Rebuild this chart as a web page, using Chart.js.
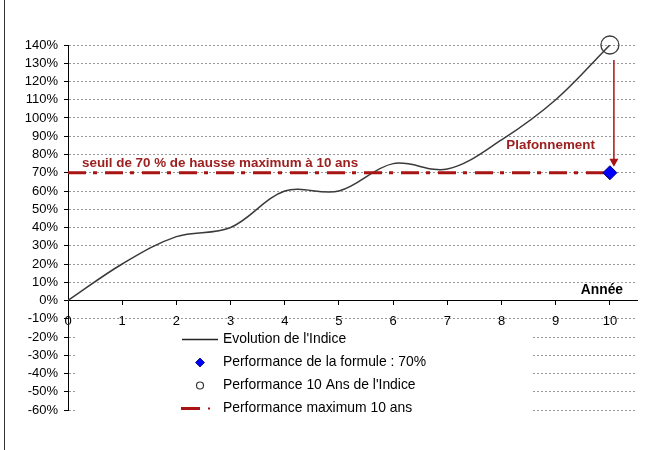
<!DOCTYPE html>
<html>
<head>
<meta charset="utf-8">
<style>
  html, body { margin: 0; padding: 0; background: #fff; }
  #wrap { width: 659px; height: 450px; position: relative; }
</style>
</head>
<body>
<div id="wrap"><canvas id="chart" width="659" height="450"></canvas></div>

<script src="https://cdn.jsdelivr.net/npm/chart.js@4"></script>
<script>
  const annees = [0, 1, 2, 3, 4, 5, 6, 7, 8, 9, 10]
  const indice = [0, 20, 35, 40, 60, 60, 75, 72, 88, 110, 140]
  const plafond = 70
  const anneeFinale = 10
  const perfFormule = 70
  const perf10Ans = 140
  const yTicks = [-60, -50, -40, -30, -20, -10, 0, 10, 20, 30, 40, 50, 60, 70, 80, 90, 100, 110, 120, 130, 140]
  const xTicks = [0, 1, 2, 3, 4, 5, 6, 7, 8, 9, 10]

  const legendItems = [
    "Evolution de l'Indice",
    "Performance de la formule : 70%",
    "Performance 10 Ans de l'Indice",
    "Performance maximum 10 ans",
  ]
  const seuilLabel = "seuil de 70 % de hausse maximum à 10 ans"
  const plafLabel = "Plafonnement"
  const axisTitle = "Année"

  const FONT = "'Liberation Sans', Arial, sans-serif"
  const RED = '#a81414'
  const TXT_RED = '#9c2020'

  const overlay = {
    id: 'overlay',
    afterDraw(chart) {
      const {ctx, scales: {x, y}} = chart
      ctx.save()

      // outer frame left edge
      ctx.strokeStyle = '#333'
      ctx.lineWidth = 1
      ctx.beginPath()
      ctx.moveTo(4.5, 0)
      ctx.lineTo(4.5, 450)
      ctx.stroke()

      // arrow: index value down to the cap
      const ax = x.getPixelForValue(anneeFinale) + 4
      const y1 = y.getPixelForValue(perf10Ans) + 15
      const y2 = y.getPixelForValue(plafond) - 6
      ctx.strokeStyle = RED
      ctx.fillStyle = RED
      ctx.lineWidth = 1.5
      ctx.beginPath()
      ctx.moveTo(ax, y1)
      ctx.lineTo(ax, y2 - 7)
      ctx.stroke()
      ctx.beginPath()
      ctx.moveTo(ax - 4.5, y2 - 8)
      ctx.lineTo(ax + 4.5, y2 - 8)
      ctx.lineTo(ax, y2)
      ctx.closePath()
      ctx.fill()

      // labels
      ctx.font = 'bold 13.4px ' + FONT
      ctx.fillStyle = TXT_RED
      ctx.textBaseline = 'middle'
      ctx.textAlign = 'left'
      ctx.fillText(seuilLabel, x.getPixelForValue(0) + 14, y.getPixelForValue(plafond) - 9)
      ctx.textAlign = 'right'
      ctx.fillText(plafLabel, x.getPixelForValue(anneeFinale) - 15, y.getPixelForValue(plafond) - 27)

      ctx.fillStyle = '#000'
      ctx.font = 'bold 13.8px ' + FONT
      ctx.fillText(axisTitle, x.right - 14, y.getPixelForValue(0) - 10)

      // legend
      const lx = 77, ly = y.getPixelForValue(0) + 28
      ctx.fillStyle = '#fff'
      ctx.fillRect(lx, ly, 455, 110)
      const rows = [340, 363, 386, 409].map(v => v - 301 + y.getPixelForValue(0))
      const sx = 200, tx = 223

      ctx.strokeStyle = '#222'
      ctx.lineWidth = 1.3
      ctx.beginPath()
      ctx.moveTo(182, rows[0])
      ctx.lineTo(218, rows[0])
      ctx.stroke()

      ctx.fillStyle = '#0000ff'
      ctx.strokeStyle = '#000060'
      ctx.lineWidth = 0.8
      ctx.beginPath()
      ctx.moveTo(sx, rows[1] - 4.5)
      ctx.lineTo(sx + 4.5, rows[1])
      ctx.lineTo(sx, rows[1] + 4.5)
      ctx.lineTo(sx - 4.5, rows[1])
      ctx.closePath()
      ctx.fill()
      ctx.stroke()

      ctx.strokeStyle = '#333'
      ctx.lineWidth = 1.2
      ctx.beginPath()
      ctx.arc(sx, rows[2], 3.5, 0, Math.PI * 2)
      ctx.stroke()

      ctx.fillStyle = RED
      ctx.fillRect(181, rows[3] - 1.5, 19, 3)
      ctx.fillRect(208, rows[3] - 1, 2, 2)

      ctx.fillStyle = '#000'
      ctx.font = '13.9px ' + FONT
      ctx.textAlign = 'left'
      legendItems.forEach((t, i) => ctx.fillText(t, tx, rows[i]))

      ctx.restore()
    }
  }

  new Chart(document.getElementById('chart'), {
    type: 'scatter',
    data: {
      datasets: [
        {
          label: legendItems[0],
          data: annees.map((a, i) => ({x: a, y: indice[i]})),
          showLine: true,
          borderColor: '#3a3a3a',
          borderWidth: 1.5,
          pointRadius: 0,
          tension: 0.35,
          order: 3,
        },
        {
          label: legendItems[3],
          data: [{x: annees[0], y: plafond}, {x: anneeFinale, y: plafond}],
          showLine: true,
          borderColor: RED,
          borderWidth: 3,
          borderDash: [18, 7, 4, 8],
          pointRadius: 0,
          order: 2,
        },
        {
          label: legendItems[2],
          data: [{x: anneeFinale, y: perf10Ans}],
          pointStyle: 'circle',
          pointRadius: 9,
          backgroundColor: 'rgba(0,0,0,0)',
          borderColor: '#3a3a3a',
          borderWidth: 1.3,
          clip: false,
          order: 1,
        },
        {
          label: legendItems[1],
          data: [{x: anneeFinale, y: perfFormule}],
          pointStyle: 'rectRot',
          pointRadius: 7,
          backgroundColor: '#0000ff',
          borderColor: '#000070',
          borderWidth: 1,
          clip: false,
          order: 0,
        },
      ],
    },
    options: {
      responsive: false,
      animation: false,
      layout: {padding: {top: 45, right: 22, bottom: 40, left: 0}},
      plugins: {legend: {display: false}, tooltip: {enabled: false}},
      scales: {
        x: {
          type: 'linear',
          position: {y: 0},
          min: 0,
          max: 10.5,
          afterBuildTicks: s => { s.ticks = xTicks.map(v => ({value: v})) },
          ticks: {color: '#000', font: {family: FONT, size: 13}, padding: 9, autoSkip: false, maxRotation: 0},
          grid: {drawOnChartArea: false, tickLength: 4, tickColor: '#000'},
          border: {color: '#000', width: 1},
        },
        y: {
          min: -60,
          max: 140,
          afterBuildTicks: s => { s.ticks = yTicks.map(v => ({value: v})) },
          afterFit: s => { s.width = 68 },
          ticks: {color: '#000', font: {family: FONT, size: 13}, padding: 6, autoSkip: false, callback: v => v + '%'},
          grid: {color: '#999', tickColor: '#000', tickLength: 4, lineWidth: 1},
          border: {color: '#000', width: 1, dash: [2, 2]},
        },
      },
    },
    plugins: [overlay],
  })
</script>
</body>
</html>
